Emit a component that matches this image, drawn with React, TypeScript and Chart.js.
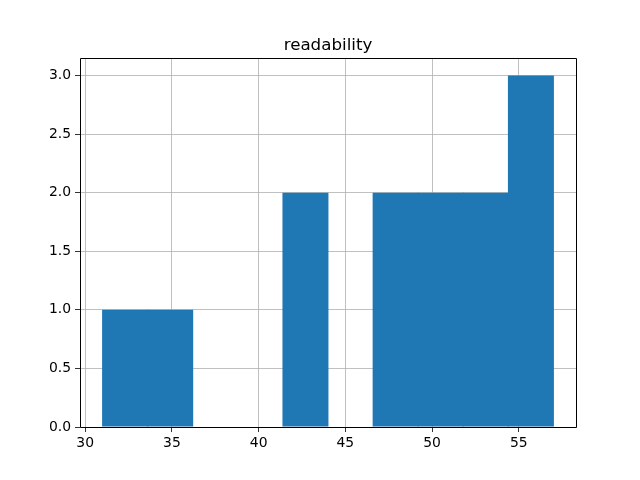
import React, { useEffect, useRef } from "react";
import { Chart, registerables } from "chart.js";

Chart.register(...registerables);

const chartTitle = "readability";
const binEdges = [31, 33.6, 36.2, 38.8, 41.4, 44.0, 46.6, 49.2, 51.8, 54.4, 57];
const counts = [1, 1, 0, 0, 2, 0, 2, 2, 2, 3];
const xTicks = [30, 35, 40, 45, 50, 55];
const yTicks = [0, 0.5, 1.0, 1.5, 2.0, 2.5, 3.0];

const FONT = "'DejaVu Sans', sans-serif";

export default function App() {
  const ref = useRef<HTMLCanvasElement | null>(null);

  useEffect(() => {
    document.body.style.margin = "0";
    const canvas = ref.current;
    if (!canvas) return;

    const points = counts.map((c, i) => ({
      x: (binEdges[i] + binEdges[i + 1]) / 2,
      y: c,
    }));
    const lo = binEdges[0];
    const hi = binEdges[binEdges.length - 1];
    const margin = (hi - lo) * 0.05;
    const yMax = Math.max(...counts) * 1.05;

    const framePlugin = {
      id: "frame",
      afterDraw(chart: any) {
        const { ctx, chartArea } = chart;
        const { left, right, top, bottom } = chartArea;
        ctx.save();
        ctx.strokeStyle = "#000";
        ctx.lineWidth = 1;
        ctx.beginPath();
        ctx.rect(Math.round(left) + 0.5, Math.round(top) + 0.5, Math.round(right - left) - 0, Math.round(bottom - top));
        ctx.stroke();
        ctx.fillStyle = "#000";
        ctx.font = `16.7px ${FONT}`;
        ctx.textAlign = "center";
        ctx.textBaseline = "alphabetic";
        ctx.fillText(chartTitle, (left + right) / 2, top - 8);
        ctx.restore();
      },
    };

    const chart = new Chart(canvas, {
      type: "bar",
      data: {
        datasets: [
          {
            data: points,
            backgroundColor: "#1f77b4",
            borderWidth: 0,
            barPercentage: 1.02,
            categoryPercentage: 1,
          },
        ],
      },
      options: {
        animation: false,
        responsive: false,
        devicePixelRatio: 1,
        layout: { padding: { top: 58, right: 64, left: 0, bottom: 0 } },
        plugins: {
          legend: { display: false },
          title: { display: false },
          tooltip: { enabled: false },
        },
        scales: {
          x: {
            type: "linear",
            offset: false,
            min: lo - margin,
            max: hi + margin,
            z: 1,
            afterBuildTicks: (s: any) => {
              s.ticks = xTicks.map((v) => ({ value: v }));
            },
            afterFit: (s: any) => {
              s.height = 53;
            },
            grid: {
              offset: false,
              color: "#b0b0b0",
              lineWidth: 0.8,
              tickColor: "#000",
              tickLength: 5,
              drawTicks: true,
            },
            border: { display: false },
            ticks: {
              color: "#000",
              font: { family: FONT, size: 13.9 },
              padding: 3,
              maxRotation: 0,
              autoSkip: false,
              callback: (v: any) => String(v),
            },
          },
          y: {
            type: "linear",
            min: 0,
            max: yMax,
            z: 1,
            afterBuildTicks: (s: any) => {
              s.ticks = yTicks.map((v) => ({ value: v }));
            },
            afterFit: (s: any) => {
              s.width = 80;
            },
            grid: {
              offset: false,
              color: "#b0b0b0",
              lineWidth: 0.8,
              tickColor: "#000",
              tickLength: 5,
              drawTicks: true,
            },
            border: { display: false },
            ticks: {
              color: "#000",
              font: { family: FONT, size: 13.9 },
              padding: 4,
              autoSkip: false,
              callback: (v: any) => Number(v).toFixed(1),
            },
          },
        },
      },
      plugins: [framePlugin],
    });

    return () => chart.destroy();
  }, []);

  return (
    <div style={{ position: "absolute", left: 0, top: 0, width: 640, height: 480, background: "#fff" }}>
      <canvas ref={ref} width={640} height={480} style={{ width: 640, height: 480, display: "block" }} />
    </div>
  );
}
